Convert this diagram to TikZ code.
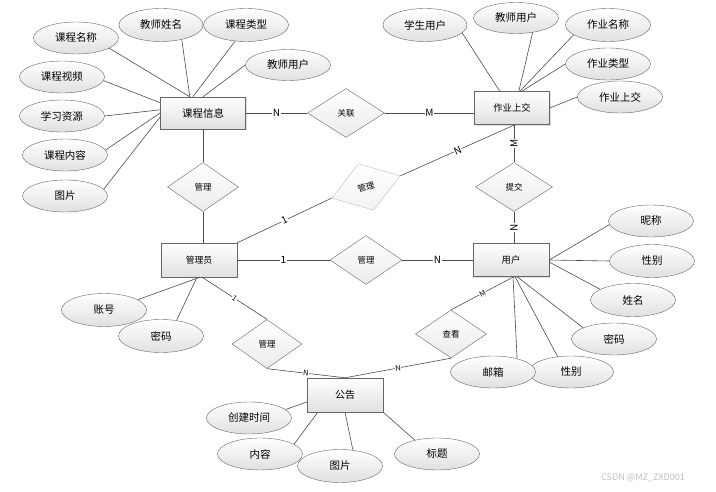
\documentclass[tikz,border=0pt]{standalone}
\usepackage{fontspec}
\setmainfont{Noto Sans CJK SC}
\usetikzlibrary{shapes.geometric,shadows,calc}
\begin{document}
\begin{tikzpicture}[x=1pt,y=-1pt,
  ent/.style={draw=black!60, rectangle, minimum width=76pt, minimum height=33pt, inner sep=0pt,
    top color=white, bottom color=black!12,
    drop shadow={shadow xshift=1.2pt,shadow yshift=-1.2pt,opacity=0.25},
    font=\fontsize{9.3}{10}\selectfont},
  attr/.style={draw=black!60, ellipse, minimum width=85pt, minimum height=32pt, inner sep=0pt,
    top color=white, bottom color=black!12, font=\fontsize{10.5}{11}\selectfont},
  rel/.style={draw=black!60, diamond, minimum width=71pt, minimum height=49pt, inner sep=0pt,
    top color=white, bottom color=black!8, font=\fontsize{8.5}{9}\selectfont},
  ln/.style={draw=black!70, line width=0.6pt},
  card/.style={fill=white, inner sep=0.6pt, font=\fontsize{10}{10}\selectfont},
  cards/.style={fill=white, inner sep=0.4pt, font=\fontsize{7.5}{8}\selectfont}
]
\useasboundingbox (0,0) rectangle (716,492);
\fill[white] (0,0) rectangle (716,492);

% entities
\node[ent, minimum width=85pt, minimum height=32pt, font=\fontsize{10.5}{11}\selectfont] (kc) at (203,113) {课程信息};
\node[ent, minimum width=75pt] (zy) at (512,108) {作业上交};
\node[ent, minimum height=34pt, font=\fontsize{8.8}{9}\selectfont] (gly) at (199,260) {管理员};
\node[ent] (yh) at (511,260) {用户};
\node[ent, minimum height=34pt, font=\fontsize{10}{11}\selectfont] (gg) at (345,395) {公告};

% relationships
\node[rel, minimum width=77pt] (gl) at (346,113) {关联};
\node[rel] (gl1) at (203,187) {管理};
\node[rel, minimum width=72pt, rotate=18, draw=black!25, bottom color=black!5] (gl2) at (366,187) {管理};
\node[rel, minimum width=77pt] (tj) at (514,187) {提交};
\node[rel, minimum width=72pt] (gl3) at (366,260) {管理};
\node[rel, minimum width=70pt] (gl4) at (267,344) {管理};
\node[rel, minimum height=48pt] (ck) at (451,334) {查看};

% attributes of 课程信息
\node[attr] (a1) at (76,38) {课程名称};
\node[attr, minimum width=84pt, minimum height=33pt] (a2) at (161,25) {教师姓名};
\node[attr, minimum height=33pt] (a3) at (246,25) {课程类型};
\node[attr, minimum height=31pt] (a4) at (288,65) {教师用户};
\node[attr] (a5) at (62,77) {课程视频};
\node[attr] (a6) at (62,116) {学习资源};
\node[attr] (a7) at (65,155) {课程内容};
\node[attr] (a8) at (65,196) {图片};

% attributes of 作业上交
\node[attr, minimum width=84pt, minimum height=33pt] (b1) at (425,25) {学生用户};
\node[attr, minimum height=31pt] (b2) at (516,18) {教师用户};
\node[attr, minimum height=33pt] (b3) at (608,25) {作业名称};
\node[attr] (b4) at (608,64) {作业类型};
\node[attr] (b5) at (620,97) {作业上交};

% attributes of 用户
\node[attr] (c1) at (651,221) {昵称};
\node[attr, minimum height=33pt] (c2) at (652,261) {性别};
\node[attr, minimum height=33pt] (c3) at (633,300) {姓名};
\node[attr] (c4) at (614,339) {密码};
\node[attr] (c5) at (571,372) {性别};
\node[attr] (c6) at (493,372) {邮箱};

% attributes of 管理员
\node[attr, minimum height=33pt] (d1) at (104,310) {账号};
\node[attr, minimum height=33pt] (d2) at (161,336) {密码};

% attributes of 公告
\node[attr] (e1) at (249,418) {创建时间};
\node[attr] (e2) at (260,454) {内容};
\node[attr, minimum height=33pt] (e3) at (340,466) {图片};
\node[attr] (e4) at (437,454) {标题};

% attribute connectors
\draw[ln] (a1.-17) -- ($(kc.north west)+(29.5,0)$);
\draw[ln] (a2.-35.5) -- ($(kc.north west)+(29.5,0)$);
\draw[ln] (a3.-124.5) -- ($(kc.north west)+(32.5,0)$);
\draw[ln] (a4.west) -- (kc.north);
\draw[ln] (a5.-5) -- ($(kc.north west)+(0,6)$);
\draw[ln] (a6.east) -- ($(kc.north west)+(0,13)$);
\draw[ln] (a7.7) -- ($(kc.north west)+(0,16)$);
\draw[ln] (a8.10) -- ($(kc.north west)+(0,20)$);

\draw[ln] (b1.-12) -- ($(zy.north west)+(25.5,0)$);
\draw[ln] (b2.-41) -- ($(zy.north west)+(44.5,0)$);
\draw[ln] (b3.-164.5) -- ($(zy.north west)+(45.5,0)$);
\draw[ln] (b4.west) -- ($(zy.north west)+(47.5,0)$);
\draw[ln] (b5.west) -- (zy.east);

\draw[ln] (c1.-175) -- (yh.east);
\draw[ln] (c2.west) -- (yh.east);
\draw[ln] (c3.162) -- ($(yh.east)+(0,2)$);
\draw[ln] (c4.160) -- ($(yh.south)+(6,0)$);
\draw[ln] (c5.131) -- ($(yh.south)+(4,0)$);
\draw[ln] (c6.29) -- ($(yh.south)+(2,0)$);

\draw[ln] (d1.17) -- ($(gly.south)+(1,0)$);
\draw[ln] (d2.45) -- ($(gly.south)+(-2,0)$);

\draw[ln] (e1.13) -- ($(gg.west)+(0,7)$);
\draw[ln] (e2.16) -- ($(gg.south west)+(11,0)$);
\draw[ln] (e3.51) -- (gg.south);
\draw[ln] (e4.148) -- (gg.south east);

% relationship connectors
\draw[ln] (kc.east) -- node[card]{N} (gl.west);
\draw[ln] (gl.east) -- node[card]{M} (gl.east -| zy.west);
\draw[ln] (kc.south) -- (gl1.north);
\draw[ln] (gl1.south) -- (gl1.south |- gly.north);
\draw[ln] (gly.north east) -- node[card, sloped]{1} (gl2.west);
\draw[ln] (gl2.east) -- node[card, sloped]{N} ($(zy.south)+(3,0)$);
\draw[ln] ($(zy.south)+(2,0)$) -- node[card, rotate=90]{M} (tj.north);
\draw[ln] (tj.south) -- node[card, rotate=90]{N} (tj.south |- yh.north);
\draw[ln] (gly.east) -- node[card]{1} (gl3.west);
\draw[ln] (gl3.east) -- node[card]{N} (yh.west);
\draw[ln] ($(gly.south)+(3,0)$) -- node[cards, sloped]{1} (gl4.north);
\draw[ln] (gl4.south) -- node[cards, sloped]{N} (gg.north);
\draw[ln] (ck.south) -- node[cards, sloped]{N} (gg.north);
\draw[ln] (ck.north) -- node[cards, sloped]{M} ($(yh.south)+(3,0)$);

% watermark
\node[text=black!25, font=\fontsize{9}{10}\selectfont, inner sep=0pt] (wm) at (643,478) {CSDN @MZ\_ZXD001};
\end{tikzpicture}
\end{document}
